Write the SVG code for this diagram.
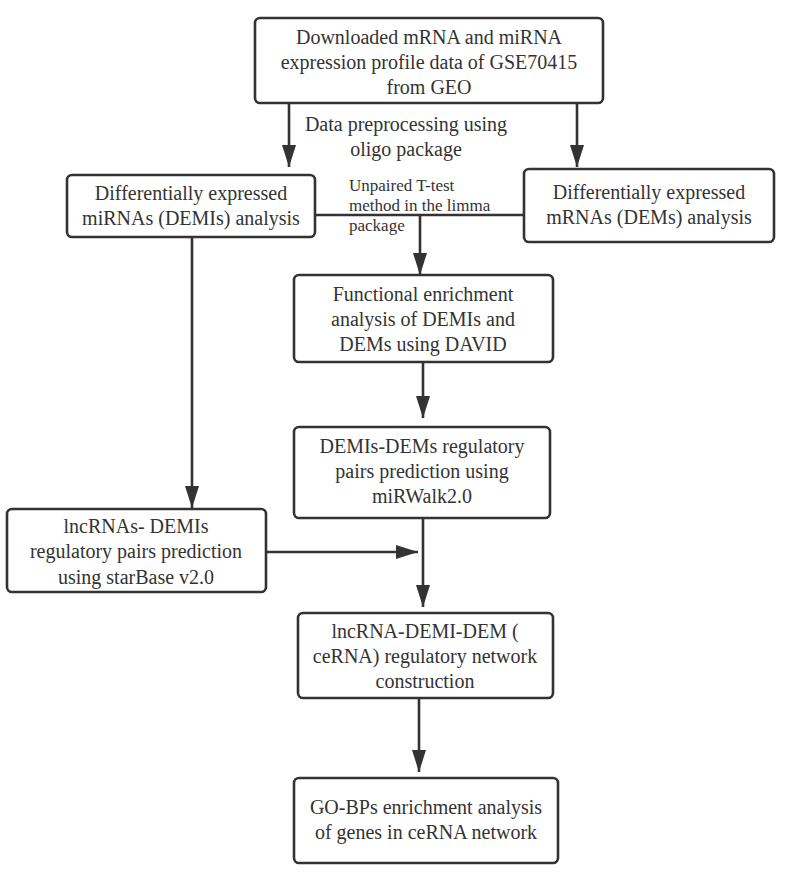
<svg xmlns="http://www.w3.org/2000/svg" width="787" height="885" viewBox="0 0 787 885">
<style>
.box{fill:#fff;stroke:#333;stroke-width:2.6}
.t{font-family:"Liberation Serif","Times New Roman",serif;font-size:20px;fill:#333;text-anchor:middle}
.s{font-family:"Liberation Serif","Times New Roman",serif;font-size:17px;fill:#333}
.c{fill:none;stroke:#333;stroke-width:2.6}
</style>
<defs>
<marker id="ah" markerUnits="userSpaceOnUse" markerWidth="22" markerHeight="14" refX="22" refY="7" orient="auto">
<path d="M0,0 L22,7 L0,14 z" fill="#333"/>
</marker>
</defs>
<rect width="787" height="885" fill="#fff"/>
<g id="connectors">
<path class="c" d="M289,103 V167" marker-end="url(#ah)"/>
<path class="c" d="M577,103 V167" marker-end="url(#ah)"/>
<path class="c" d="M315,215 H524"/>
<path class="c" d="M420,215 V275" marker-end="url(#ah)"/>
<path class="c" d="M423,363 V418" marker-end="url(#ah)"/>
<path class="c" d="M192,237 V508" marker-end="url(#ah)"/>
<path class="c" d="M266,552 H418" marker-end="url(#ah)"/>
<path class="c" d="M423,518 V607" marker-end="url(#ah)"/>
<path class="c" d="M419,698 V772" marker-end="url(#ah)"/>
</g>
<g id="label-preprocessing">
<text class="t" x="406" y="131">Data preprocessing using</text>
<text class="t" x="406" y="156">oligo package</text>
</g>
<g id="label-ttest">
<text class="s" x="349" y="191">Unpaired T-test</text>
<text class="s" x="349" y="211">method in the limma</text>
<text class="s" x="349" y="231">package</text>
</g>
<g id="n-download">
<rect class="box" x="255" y="18" width="348" height="85" rx="5"/>
<text class="t" x="429" y="44">Downloaded mRNA and miRNA</text>
<text class="t" x="429" y="69">expression profile data of GSE70415</text>
<text class="t" x="429" y="94">from GEO</text>
</g>
<g id="n-demis">
<rect class="box" x="67" y="175" width="248" height="62" rx="5"/>
<text class="t" x="191" y="200">Differentially expressed</text>
<text class="t" x="191" y="225">miRNAs (DEMIs) analysis</text>
</g>
<g id="n-dems">
<rect class="box" x="524" y="169" width="250" height="73" rx="5"/>
<text class="t" x="649" y="199">Differentially expressed</text>
<text class="t" x="649" y="224">mRNAs (DEMs) analysis</text>
</g>
<g id="n-functional">
<rect class="box" x="294" y="275" width="259" height="87" rx="5"/>
<text class="t" x="423" y="301">Functional enrichment</text>
<text class="t" x="423" y="326">analysis of DEMIs and</text>
<text class="t" x="423" y="351">DEMs using DAVID</text>
</g>
<g id="n-pairs">
<rect class="box" x="294" y="427" width="256" height="91" rx="5"/>
<text class="t" x="422" y="453">DEMIs-DEMs regulatory</text>
<text class="t" x="422" y="478">pairs prediction using</text>
<text class="t" x="422" y="503">miRWalk2.0</text>
</g>
<g id="n-lnc">
<rect class="box" x="7" y="509" width="259" height="83" rx="5"/>
<text class="t" x="136" y="533">lncRNAs- DEMIs</text>
<text class="t" x="136" y="558">regulatory pairs prediction</text>
<text class="t" x="136" y="584">using starBase v2.0</text>
</g>
<g id="n-cerna">
<rect class="box" x="298" y="613" width="255" height="85" rx="5"/>
<text class="t" x="425" y="638">lncRNA-DEMI-DEM (</text>
<text class="t" x="425" y="663">ceRNA) regulatory network</text>
<text class="t" x="425" y="688">construction</text>
</g>
<g id="n-go">
<rect class="box" x="294" y="778" width="264" height="85" rx="5"/>
<text class="t" x="426" y="814">GO-BPs enrichment analysis</text>
<text class="t" x="426" y="839">of genes in ceRNA network</text>
</g>
</svg>
